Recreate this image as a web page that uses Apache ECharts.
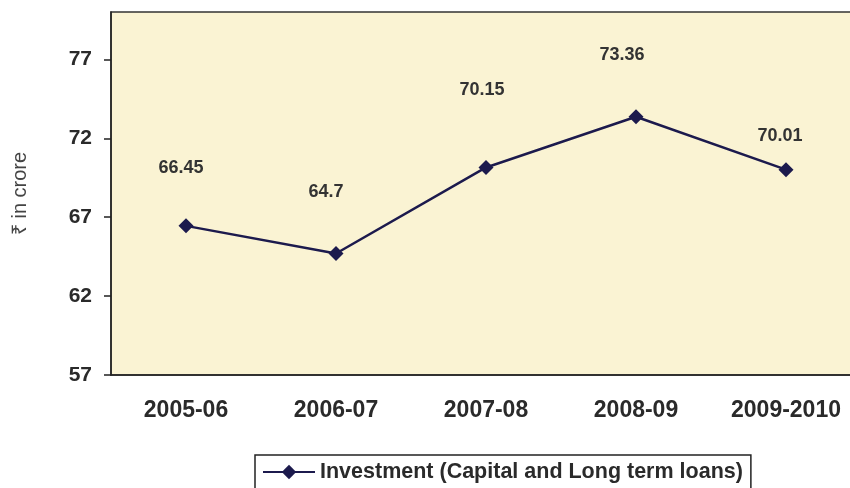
<!DOCTYPE html>
<html><head><meta charset="utf-8">
<script src="https://cdn.jsdelivr.net/npm/echarts@6/dist/echarts.min.js"></script>
<style>html,body{margin:0;padding:0;background:#fff;overflow:hidden}#c{width:850px;height:488px}</style>
</head><body><div id="c"></div>
<script>
const categories = ['2005-06','2006-07','2007-08','2008-09','2009-2010'];
const values = [66.45, 64.7, 70.15, 73.36, 70.01];
const yTicks = [57, 62, 67, 72, 77];
const seriesName = 'Investment (Capital and Long term loans)';
const labelOffsets = [[-5,-58],[-10,-61],[-4,-77],[-14,-62],[-6,-34]];

const font = 'Liberation Sans, Arial, sans-serif';
const chart = echarts.init(document.getElementById('c'), null, {renderer:'canvas'});
chart.setOption({
  animation:false,
  backgroundColor:'#fff',
  grid:{left:111, top:12, width:750, bottom:113, outerBoundsMode:'none', containLabel:false,
    show:true, backgroundColor:'#FAF3D3', borderColor:'#333', borderWidth:1.5},
  xAxis:{type:'category', data:categories, boundaryGap:true,
    axisLine:{lineStyle:{color:'#222', width:1.5}},
    axisTick:{length:6, lineStyle:{color:'#222', width:1.5}},
    axisLabel:{color:'#2a2a2a', fontFamily:font, fontWeight:'bold', fontSize:23, margin:24}},
  yAxis:{type:'value', min:57, max:80,
    name:'₹ in crore', nameLocation:'middle', nameGap:81, nameRotate:90,
    nameTextStyle:{color:'#444', fontFamily:font, fontSize:20},
    splitLine:{show:false},
    axisLine:{show:true, lineStyle:{color:'#222', width:1.5}},
    axisTick:{show:true, length:7, customValues:yTicks, lineStyle:{color:'#222', width:1.5}},
    axisLabel:{color:'#2a2a2a', fontFamily:font, fontWeight:'bold', fontSize:21, margin:19, customValues:yTicks}},
  legend:{data:[seriesName], top:455, left:255, itemWidth:52, itemHeight:18,
    borderColor:'#222', borderWidth:1.5, padding:[6,8,6,7],
    textStyle:{color:'#2a2a2a', fontFamily:font, fontWeight:'bold', fontSize:21.5}},
  series:[{type:'line', name:seriesName,
    data: values.map((v,i)=>({value:v, label:{offset:labelOffsets[i]}})),
    symbol:'diamond', symbolSize:15,
    lineStyle:{color:'#1C1A4D', width:2.5},
    itemStyle:{color:'#1C1A4D'},
    label:{show:true, position:'inside', color:'#333', fontFamily:font, fontWeight:'bold', fontSize:18}}]
});
</script></body></html>
